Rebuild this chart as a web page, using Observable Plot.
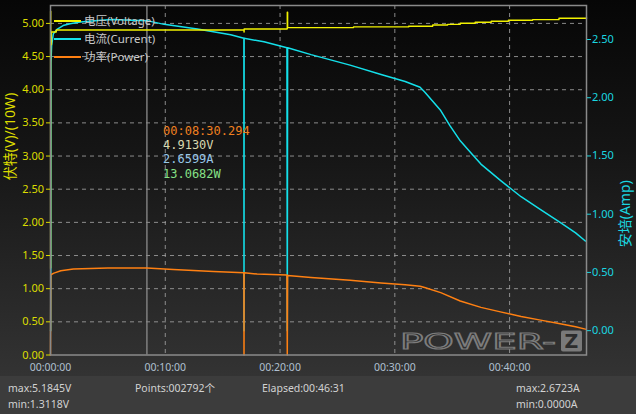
<!DOCTYPE html>
<html><head><meta charset="utf-8">
<script src="https://cdn.jsdelivr.net/npm/d3@7"></script>
<script src="https://cdn.jsdelivr.net/npm/@observablehq/plot@0.6"></script>
<style>
html,body{margin:0;padding:0;}
body{width:636px;height:414px;overflow:hidden;position:relative;background:#3c3c3c;font-family:"Noto Sans","Noto Sans CJK SC",sans-serif;}
#chart{position:absolute;left:0;top:0;width:636px;height:376px;background:linear-gradient(to bottom,#060606 0px,#151515 150px,#333333 376px);}
#chart svg{display:block;}
.legend{position:absolute;left:54px;font-size:11.5px;color:#c8c8c8;line-height:16px;white-space:nowrap;}
.legend span.sw{display:inline-block;width:27px;height:1.5px;vertical-align:middle;margin-right:3px;position:relative;top:-1px;}
#annot{position:absolute;left:163px;top:124px;font-family:"DejaVu Sans Mono",monospace;font-size:12px;line-height:14.2px;white-space:pre;}
#status{position:absolute;left:0;top:376px;width:636px;height:38px;background:#3c3c3c;color:#d2d2d2;font-size:10.5px;}
#status div{position:absolute;white-space:nowrap;line-height:14px;}
#wm{position:absolute;left:0;top:0;}
</style>
</head><body>
<div id="chart"></div>
<div id="status"></div>
<script>
// ---- data ----
// time axis in minutes
const xTicks = [0, 10, 20, 30, 40];
const leftTicks = [0, 0.5, 1, 1.5, 2, 2.5, 3, 3.5, 4, 4.5, 5];
const ampTicks = [0, 0.5, 1, 1.5, 2, 2.5];

// Voltage (V)
const voltTime = [0, 0.01, 0.02, 0.08, 0.5, 16.85, 16.86, 16.87, 20.6, 20.63, 20.66, 26.4, 31.2, 33.3, 34.6, 35.7, 37.0, 38.4, 39.9, 42.0, 44.3, 46.7];
const voltVals = [1.3118, 5.1845, 4.68, 4.87, 4.90, 4.905, 4.87, 4.915, 4.917, 5.17, 4.937, 4.947, 4.956, 4.977, 4.986, 5.002, 5.017, 5.032, 5.047, 5.057, 5.077, 5.087];

// Current (A)
const currTime = [0, 0.02, 0.04, 0.1, 0.25, 0.6, 1.1, 1.7, 2.6, 4.4, 5.5, 7.0, 8.5, 9.9, 12.8, 15.7, 16.85, 16.855, 16.86, 16.865, 16.87, 18.6, 20.6, 20.63, 20.66, 22.7, 26.1, 28.8, 30.9, 32.2, 32.6, 33.3, 34.0, 34.8, 35.7, 36.6, 37.5, 39.2, 41.0, 42.7, 44.4, 45.75, 46.6];
const currVals = [0, 0, 2.3, 2.45, 2.55, 2.59, 2.62, 2.635, 2.65, 2.665, 2.672, 2.665, 2.66, 2.63, 2.59, 2.54, 2.51, 1.05, 0, 1.05, 2.51, 2.48, 2.43, 0, 2.43, 2.37, 2.28, 2.20, 2.14, 2.09, 2.05, 1.97, 1.89, 1.76, 1.63, 1.53, 1.43, 1.29, 1.15, 1.04, 0.93, 0.84, 0.77];

// Power (10 W units)
const powTime = [0, 0.03, 0.3, 0.9, 2.0, 5.0, 8.4, 10.7, 14.2, 16.85, 16.855, 16.86, 16.865, 16.87, 18.0, 20.6, 20.63, 20.66, 22.7, 26.1, 28.8, 30.9, 32.2, 32.6, 34.0, 35.7, 37.5, 39.2, 41.0, 42.7, 44.4, 45.75, 46.6];
const powVals = [0, 1.21, 1.235, 1.27, 1.297, 1.31, 1.31, 1.29, 1.26, 1.24, 0.65, 0, 0.65, 1.24, 1.22, 1.206, 0, 1.20, 1.17, 1.126, 1.087, 1.06, 1.037, 1.017, 0.94, 0.815, 0.718, 0.65, 0.58, 0.526, 0.472, 0.427, 0.39];

const cursorT = 8.4;
const annotLines = ["00:08:30.294", "4.9130V", "2.6599A", "13.0682W"];
const legendItems = ["电压(Voltage)", "电流(Current)", "功率(Power)"];
const statusLeft = ["max:5.1845V", "min:1.3118V"];
const statusMid = ["Points:002792个", "Elapsed:00:46:31"];
const statusRight = ["max:2.6723A", "min:0.0000A"];

// ---- styles / scales ----
const C_V = "#f2f200", C_A = "#14e0ea", C_P = "#ff8012";
const vDomain = [0, 5.27];
const aDomain = [-0.209, 2.792];
const amp2v = a => vDomain[0] + (a - aDomain[0]) / (aDomain[1] - aDomain[0]) * (vDomain[1] - vDomain[0]);
const v2amp = v => aDomain[0] + (v - vDomain[0]) / (vDomain[1] - vDomain[0]) * (aDomain[1] - aDomain[0]);

const volt = voltTime.map((t, i) => ({t, v: voltVals[i]}));
const curr = currTime.map((t, i) => ({t, a: currVals[i]}));
const pow = powTime.map((t, i) => ({t, p: powVals[i]}));
const pad = n => String(n).padStart(2, "0");

const chart = Plot.plot({
  width: 636, height: 376,
  marginLeft: 50, marginRight: 50, marginTop: 5, marginBottom: 21.5,
  style: {background: "transparent", fontFamily: "'Noto Sans','Noto Sans CJK SC',sans-serif", fontSize: "11px", overflow: "visible"},
  x: {domain: [0, 46.7], label: null},
  y: {domain: vDomain, label: null},
  marks: [
    Plot.gridY(leftTicks.slice(1), {stroke: "#a0a0a0", strokeOpacity: 0.85, strokeDasharray: "4,4"}),
    Plot.gridX(xTicks.slice(1), {stroke: "#a0a0a0", strokeOpacity: 0.85, strokeDasharray: "4,4"}),
    Plot.ruleX([cursorT], {stroke: "#8c8c8c", strokeWidth: 1.3}),
    Plot.line(curr, {x: "t", y: d => amp2v(d.a), stroke: C_A, strokeWidth: 1.5}),
    Plot.line(pow, {x: "t", y: "p", stroke: C_P, strokeWidth: 1.5}),
    Plot.line(volt, {x: "t", y: "v", stroke: C_V, strokeWidth: 1.4, curve: "step-after"}),
    Plot.frame({stroke: "#8a8a8a", strokeWidth: 1.5}),
    Plot.axisY(leftTicks, {anchor: "left", tickFormat: d => d.toFixed(2), color: "#dcdc00", tickSize: 4, tickPadding: 2.5, label: null}),
    Plot.axisY(ampTicks.map(amp2v), {anchor: "right", tickFormat: d => (Math.round(v2amp(d) * 100) / 100 + 0).toFixed(2), color: "#1ad6e0", tickSize: 4, tickPadding: 1.5, label: null}),
    Plot.axisX(xTicks, {anchor: "bottom", tickFormat: m => `00:${pad(m)}:00`, color: "#b0c0d0", tickSize: 0, tickPadding: 9, fontSize: 10.5, label: null}),
    Plot.text(["伏特(V)/(10W)"], {frameAnchor: "left", dx: -40, rotate: -90, fill: "#dcdc00", fontSize: 14}),
    Plot.text(["安培(Amp)"], {frameAnchor: "right", dx: 39, rotate: -90, fill: "#1ad6e0", fontSize: 14})
  ]
});
document.getElementById("chart").appendChild(chart);

// legend
const legColors = [C_V, C_A, C_P];
const legTops = [13, 31, 49];
legendItems.forEach((txt, i) => {
  const d = document.createElement("div");
  d.className = "legend";
  d.style.top = legTops[i] + "px";
  d.innerHTML = `<span class="sw" style="background:${legColors[i]}"></span>${txt}`;
  document.getElementById("chart").appendChild(d);
});

// cursor annotation
const annColors = ["#f08020", "#d8d8b0", "#98c8e8", "#86e086"];
const ann = document.createElement("div");
ann.id = "annot";
ann.innerHTML = annotLines.map((s, i) => `<span style="color:${annColors[i]}">${s}</span>`).join("\n");
document.getElementById("chart").appendChild(ann);

// watermark
const wm = d3.select("#chart").append("svg").attr("id", "wm").attr("width", 636).attr("height", 376);
wm.append("text").attr("x", 400).attr("y", 348.5).attr("font-size", 21).attr("font-family", "DejaVu Sans")
  .attr("textLength", 156).attr("lengthAdjust", "spacingAndGlyphs")
  .attr("fill", "none").attr("stroke", "#7c7c7c").attr("stroke-width", 1.1).text("POWER-");
wm.append("rect").attr("x", 561).attr("y", 330.5).attr("width", 21).attr("height", 21).attr("rx", 2).attr("fill", "#7a7a7a");
wm.append("text").attr("x", 571.5).attr("y", 348).attr("text-anchor", "middle").attr("font-size", 19).attr("font-weight", "bold")
  .attr("font-family", "DejaVu Sans").attr("fill", "#2c2c2c").text("Z");

// status bar
const st = document.getElementById("status");
const addS = (txt, x, y) => { const d = document.createElement("div"); d.textContent = txt; d.style.left = x + "px"; d.style.top = y + "px"; st.appendChild(d); };
addS(statusLeft[0], 8, 5); addS(statusLeft[1], 8, 21);
addS(statusMid[0], 135, 5); addS(statusMid[1], 262, 5);
addS(statusRight[0], 516, 5); addS(statusRight[1], 516, 21);
</script>
</body></html>
